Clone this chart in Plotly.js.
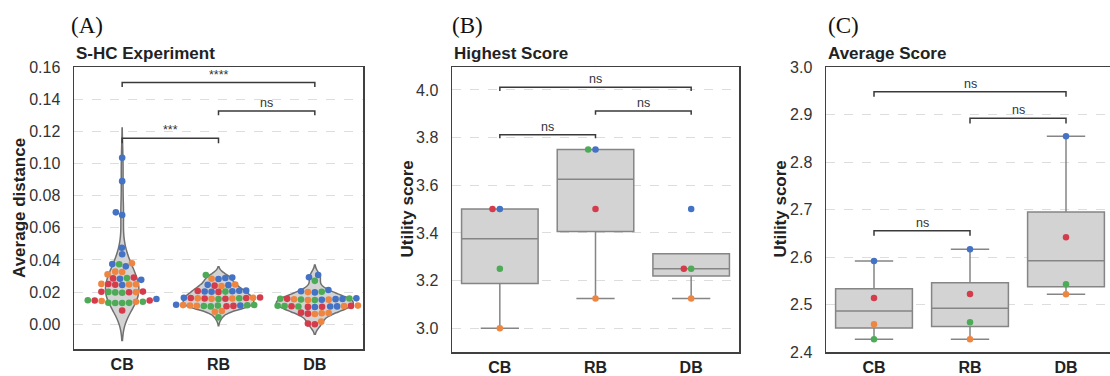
<!DOCTYPE html>
<html><head><meta charset="utf-8">
<script src="https://cdn.plot.ly/plotly-3.0.1.min.js"></script>
<style>html,body{margin:0;padding:0;overflow:hidden;background:#fff}</style>
</head><body><div id="chart" style="width:1116px;height:376px"></div>
<script>
// ---------- data ----------
const categories = ['CB', 'RB', 'DB'];
const hueColors = ['#4472C4', '#EE8540', '#4DAB57', '#D43C4C']; // blue, orange, green, red

// Panel A: average distance (S-HC experiment), per category and hue
const distCB_blue   = [0.1035, 0.0890, 0.0696, 0.0679, 0.0476, 0.0435, 0.0374, 0.0360, 0.0276, 0.0283, 0.0244, 0.0157];
const distCB_orange = [0.0379, 0.0325, 0.0310, 0.0327, 0.0249, 0.0251, 0.0247, 0.0200, 0.0140, 0.0145];
const distCB_green  = [0.0373, 0.0287, 0.0201, 0.0198, 0.0196, 0.0149, 0.0132, 0.0132, 0.0133, 0.0134, 0.0140];
const distCB_red    = [0.0290, 0.0285, 0.0246, 0.0250, 0.0202, 0.0199, 0.0203, 0.0148, 0.0148, 0.0085];

const distRB_blue   = [0.0290, 0.0281, 0.0288, 0.0245, 0.0243, 0.0208, 0.0205, 0.0202, 0.0209, 0.0204, 0.0164, 0.0117, 0.0121];
const distRB_orange = [0.0283, 0.0238, 0.0247, 0.0158, 0.0161, 0.0165, 0.0160, 0.0115, 0.0117, 0.0119, 0.0078, 0.0082];
const distRB_green  = [0.0306, 0.0203, 0.0162, 0.0157, 0.0113, 0.0118, 0.0116, 0.0111, 0.0120, 0.0043];
const distRB_red    = [0.0240, 0.0207, 0.0201, 0.0160, 0.0163, 0.0159, 0.0166, 0.0163, 0.0112, 0.0114];

const distDB_blue   = [0.0306, 0.0292, 0.0213, 0.0205, 0.0198, 0.0157, 0.0152, 0.0156, 0.0161, 0.0111, 0.0107, 0.0110];
const distDB_orange = [0.0200, 0.0155, 0.0153, 0.0151, 0.0113, 0.0116, 0.0064, 0.0070, 0.0068, 0.0016];
const distDB_green  = [0.0270, 0.0202, 0.0160, 0.0154, 0.0159, 0.0150, 0.0110, 0.0115, 0.0113];
const distDB_red    = [0.0158, 0.0112, 0.0109, 0.0114, 0.0108, 0.0072, 0.0066, 0.0004, 0.0000];

// Panel B: highest utility score [blue, orange, green, red]
const highCB = [3.5, 3.0, 3.25, 3.5];
const highRB = [3.75, 3.125, 3.75, 3.5];
const highDB = [3.5, 3.125, 3.25, 3.25];

// Panel C: average utility score [blue, orange, green, red]
const avgCB = [2.5917, 2.4583, 2.4271, 2.5139];
const avgRB = [2.6162, 2.4271, 2.4625, 2.5221];
const avgDB = [2.8541, 2.5215, 2.5425, 2.6415];

// significance labels: [CB-RB, RB-DB, CB-DB]
const sigA = ['***', 'ns', '****'];
const sigB = ['ns', 'ns', 'ns'];
const sigC = ['ns', 'ns', 'ns'];

// ---------- layout geometry ----------
const W = 1116, H = 376;
const pA = {l: 74, r: 363, t: 67, b: 349, y: [-0.0154, 0.16]};
const pB = {l: 452, r: 739, t: 67, b: 352, y: [2.9, 4.0965]};
const pC = {l: 826, r: 1114, t: 67, b: 352, y: [2.4, 3.0]};
const XR = [-0.5, 2.5];
const FONT = 'Liberation Sans, Arial, sans-serif';

function domX(p) { return [p.l / W, p.r / W]; }
function domY(p) { return [(H - p.b) / H, (H - p.t) / H]; }

// ---------- beeswarm (seaborn-like) ----------
function swarmOffsets(vals, pxPerY, r) {
  const n = vals.length;
  const order = vals.map((v, i) => i).sort((a, b) => (vals[a] - vals[b]) || (a - b));
  const placed = [];
  const off = new Array(n);
  const d = 2 * r;
  for (const i of order) {
    const y = vals[i] * pxPerY;
    const neighbors = placed.filter(p => Math.abs(y - p.y) < d);
    const cands = [0];
    let leftFirst = true;
    for (const p of neighbors.slice().reverse()) {
      const dy = y - p.y;
      const dx = Math.sqrt(Math.max(d * d - dy * dy, 0)) * 1.05;
      if (leftFirst) cands.push(p.x - dx, p.x + dx); else cands.push(p.x + dx, p.x - dx);
      leftFirst = !leftFirst;
    }
    const sorted = cands.map((c, k) => [c, k])
      .sort((a, b) => (Math.abs(a[0]) - Math.abs(b[0])) || (a[1] - b[1]))
      .map(a => a[0]);
    let chosen = sorted[sorted.length - 1];
    for (const c of sorted) {
      let ok = true;
      for (const p of neighbors) {
        const dx = c - p.x, dy = y - p.y;
        if (dx * dx + dy * dy < d * d * 0.999) { ok = false; break; }
      }
      if (ok) { chosen = c; break; }
    }
    placed.push({x: chosen, y: y});
    off[i] = chosen;
  }
  return off;
}

function swarmTrace(groups, p, r, size, xa, ya) {
  const pxPerX = (p.r - p.l) / (XR[1] - XR[0]);
  const pxPerY = (p.b - p.t) / (p.y[1] - p.y[0]);
  const xs = [], ys = [], cs = [];
  groups.forEach((byHue, ci) => {
    const vals = [], cols = [];
    byHue.forEach((arr, hi) => arr.forEach(v => { vals.push(v); cols.push(hueColors[hi]); }));
    const off = swarmOffsets(vals, pxPerY, r);
    vals.forEach((v, k) => { xs.push(ci + off[k] / pxPerX); ys.push(v); cs.push(cols[k]); });
  });
  return {type: 'scatter', mode: 'markers', x: xs, y: ys, xaxis: xa, yaxis: ya,
    marker: {size: size, color: cs, line: {width: 0}}, hoverinfo: 'y', showlegend: false, cliponaxis: false};
}

function pct(sorted, q) {
  const pos = (sorted.length - 1) * q, lo = Math.floor(pos), hi = Math.ceil(pos);
  return sorted[lo] + (sorted[hi] - sorted[lo]) * (pos - lo);
}
function boxStats(list) {
  const st = {q1: [], median: [], q3: [], lowerfence: [], upperfence: []};
  list.forEach(vals => {
    const s = vals.slice().sort((a, b) => a - b);
    const q1 = pct(s, 0.25), q2 = pct(s, 0.5), q3 = pct(s, 0.75), iqr = q3 - q1;
    const hiC = s.filter(v => v <= q3 + 1.5 * iqr), loC = s.filter(v => v >= q1 - 1.5 * iqr);
    let uf = hiC.length ? Math.max(...hiC) : q3; if (uf < q3) uf = q3;
    let lf = loC.length ? Math.min(...loC) : q1; if (lf > q1) lf = q1;
    st.q1.push(q1); st.median.push(q2); st.q3.push(q3); st.lowerfence.push(lf); st.upperfence.push(uf);
  });
  return st;
}

function boxTrace(list, xa, ya) {
  const st = boxStats(list);
  return Object.assign({type: 'box', x: [0, 1, 2], xaxis: xa, yaxis: ya, width: 0.8, whiskerwidth: 0.5,
    fillcolor: '#d3d3d3', line: {color: '#858585', width: 1.5}, boxpoints: false, hoverinfo: 'skip',
    showlegend: false}, st);
}

const violinBW = [0.0093, 0.0026, 0.0031];
const distGroups = [
  [distCB_blue, distCB_orange, distCB_green, distCB_red],
  [distRB_blue, distRB_orange, distRB_green, distRB_red],
  [distDB_blue, distDB_orange, distDB_green, distDB_red]
];

const traces = [];
distGroups.forEach((g, i) => {
  traces.push({type: 'violin', x0: i, y: [].concat(...g), xaxis: 'x', yaxis: 'y',
    bandwidth: violinBW[i], scalegroup: 'A', scalemode: 'width', spanmode: 'soft', points: false,
    fillcolor: '#d3d3d3', line: {color: '#707070', width: 1.5}, box: {visible: false},
    meanline: {visible: false}, hoverinfo: 'skip', showlegend: false});
});
traces.push(swarmTrace(distGroups, pA, 3.3, 6.6, 'x', 'y'));

const highGroups = [highCB, highRB, highDB];
const avgGroups = [avgCB, avgRB, avgDB];
traces.push(boxTrace(highGroups, 'x2', 'y2'));
traces.push(swarmTrace(highGroups.map(g => g.map(v => [v])), pB, 3.5, 6.5, 'x2', 'y2'));
traces.push(boxTrace(avgGroups, 'x3', 'y3'));
traces.push(swarmTrace(avgGroups.map(g => g.map(v => [v])), pC, 3.5, 6.5, 'x3', 'y3'));

// ---------- axes ----------
function xAxis(p, anchor) {
  return {domain: domX(p), range: XR, anchor: anchor, tickvals: [0, 1, 2],
    ticktext: categories.map(c => '<b>' + c + '</b>'), showgrid: false, zeroline: false,
    showline: true, mirror: true, linecolor: '#404040', linewidth: 1.5, ticks: '',
    ticklabelstandoff: 0, tickfont: {family: FONT, size: 16, color: '#222'}, fixedrange: true};
}
function yAxis(p, anchor, dtick, fmt) {
  return {domain: domY(p), range: p.y, anchor: anchor, dtick: dtick, tick0: 0, tickformat: fmt,
    showgrid: true, gridcolor: '#d4d4d4', griddash: 'dash', gridwidth: 0.8, zeroline: false,
    showline: true, mirror: true, linecolor: '#404040', linewidth: 1.5, ticks: '',
    ticklabelstandoff: 9, tickfont: {family: FONT, size: 16, color: '#333'}, fixedrange: true};
}

// ---------- brackets & annotations ----------
const shapes = [], annotations = [];
function brackets(xref, yref, specs, labels) {
  specs.forEach((s, k) => {
    const [x1, x2, yt, yl] = s;
    shapes.push({type: 'path', xref: xref, yref: yref,
      path: `M ${x1},${yl} L ${x1},${yt} L ${x2},${yt} L ${x2},${yl}`,
      line: {color: '#3a3a3a', width: 1.5}});
    annotations.push({xref: xref, yref: yref, x: (x1 + x2) / 2, y: yt, text: labels[k],
      showarrow: false, yanchor: 'bottom', yshift: -1,
      font: {family: FONT, size: 12.5, color: '#333'}});
  });
}
brackets('x', 'y', [[0, 1, 0.1157, 0.1125], [1, 2, 0.1327, 0.1300], [0, 2, 0.1503, 0.1475]], sigA);
brackets('x2', 'y2', [[0, 1, 3.8125, 3.797], [1, 2, 3.912, 3.896], [0, 2, 4.011, 3.996]], sigB);
brackets('x3', 'y3', [[0, 1, 2.6554, 2.645], [1, 2, 2.892, 2.881], [0, 2, 2.948, 2.9375]], sigC);

const panelTitles = ['S-HC Experiment', 'Highest Score', 'Average Score'];
const panelLetters = ['(A)', '(B)', '(C)'];
const yTitles = ['Average distance', 'Utility score', 'Utility score'];
const letterX = [87, 467, 843];
const yTitleX = [19, 407, 780];
[pA, pB, pC].forEach((p, i) => {
  annotations.push({xref: 'paper', yref: 'paper', x: p.l / W, y: (H - 53.5) / H, xanchor: 'left',
    yanchor: 'middle', text: '<b>' + panelTitles[i] + '</b>', showarrow: false,
    font: {family: FONT, size: 17, color: '#222'}});
  annotations.push({xref: 'paper', yref: 'paper', x: letterX[i] / W, y: (H - 25) / H, xanchor: 'center',
    yanchor: 'middle', text: panelLetters[i], showarrow: false,
    font: {family: 'Liberation Serif, DejaVu Serif, serif', size: 23, color: '#111'}});
  annotations.push({xref: 'paper', yref: 'paper', x: yTitleX[i] / W, y: (H - (p.t + p.b) / 2) / H,
    xanchor: 'center', yanchor: 'middle', textangle: -90, text: '<b>' + yTitles[i] + '</b>',
    showarrow: false, font: {family: FONT, size: 17, color: '#222'}});
});

const layout = {
  width: W, height: H, margin: {l: 0, r: 0, t: 0, b: 0},
  paper_bgcolor: '#fff', plot_bgcolor: '#fff', showlegend: false,
  font: {family: FONT}, violinmode: 'overlay', violingap: 0.2, violingroupgap: 0,
  xaxis: xAxis(pA, 'y'), yaxis: yAxis(pA, 'x', 0.02, '.2f'),
  xaxis2: xAxis(pB, 'y2'), yaxis2: yAxis(pB, 'x2', 0.2, '.1f'),
  xaxis3: xAxis(pC, 'y3'), yaxis3: yAxis(pC, 'x3', 0.1, '.1f'),
  shapes: shapes, annotations: annotations
};

Plotly.newPlot('chart', traces, layout, {displayModeBar: false, staticPlot: true});
</script>
</body></html>
